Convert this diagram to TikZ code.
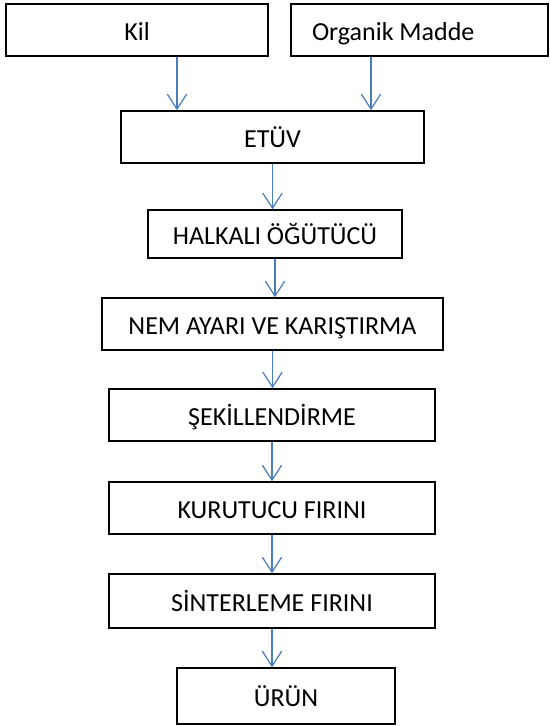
\documentclass[tikz,border=0pt]{standalone}
\usepackage{fontspec}
\setmainfont{Carlito}
\usetikzlibrary{arrows.meta}
\definecolor{flowblue}{RGB}{74,126,187}
\tikzset{
  stage/.style={draw, line width=0.9pt, inner sep=0pt, text height=0.5cm, text depth=0.066cm, font=\fontsize{14.8}{17}\selectfont},
  flow/.style={draw=flowblue, line width=0.7pt, -{Straight Barb[length=8.5pt,width=11pt]}}
}
\begin{document}
\begin{tikzpicture}[x=0.02cm,y=-0.02cm]
\useasboundingbox (0,0) rectangle (549,726);
\node[stage, minimum width=5.24cm, minimum height=1.04cm] (kil) at (137,30) {Kil};
\node[stage, minimum width=5.14cm, minimum height=1.04cm, inner xsep=0.42cm, text width=4.30cm, align=flush left] (org) at (419.5,30) {Organik Madde};
\node[stage, minimum width=6.06cm, minimum height=1.04cm] (etuv) at (272.5,137) {ETÜV};
\node[stage, minimum width=5.08cm, minimum height=0.96cm] (halk) at (275,234) {HALKALI ÖĞÜTÜCÜ};
\node[stage, minimum width=6.82cm, minimum height=1.04cm] (nem) at (272.5,324) {NEM AYARI VE KARIŞTIRMA};
\node[stage, minimum width=6.52cm, minimum height=1.04cm] (sek) at (272,415) {ŞEKİLLENDİRME};
\node[stage, minimum width=6.52cm, minimum height=1.04cm] (kur) at (272,508) {KURUTUCU FIRINI};
\node[stage, minimum width=6.52cm, minimum height=1.08cm] (sin) at (272,601) {SİNTERLEME FIRINI};
\node[stage, minimum width=4.36cm, minimum height=1.12cm] (urun) at (286,696) {ÜRÜN};
\coordinate (kx) at (177,0);
\coordinate (ox) at (371,0);
\draw[flow] (kil.south -| kx) -- (etuv.north -| kx);
\draw[flow] (org.south -| ox) -- (etuv.north -| ox);
\draw[flow] (etuv.south) -- (etuv.south |- halk.north);
\draw[flow] (halk.south) -- (halk.south |- nem.north);
\draw[flow] (nem.south) -- (nem.south |- sek.north);
\draw[flow] (sek.south) -- (sek.south |- kur.north);
\draw[flow] (kur.south) -- (kur.south |- sin.north);
\draw[flow] (sin.south) -- (sin.south |- urun.north);
\end{tikzpicture}
\end{document}
